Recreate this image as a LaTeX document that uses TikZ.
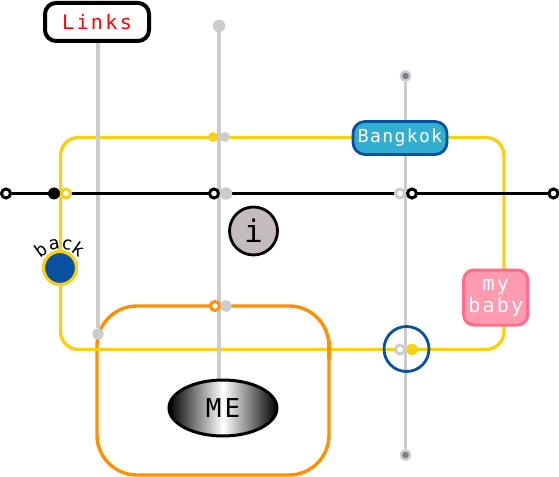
\documentclass[tikz,border=0pt]{standalone}
\usepackage{fontspec}
\setmainfont{DejaVu Sans Mono}
\usetikzlibrary{shapes.geometric}
\definecolor{ylw}{HTML}{F8D015}
\definecolor{grr}{HTML}{CCCCCC}
\definecolor{blu}{HTML}{0A50A0}
\definecolor{org}{HTML}{FF9000}
\definecolor{sky}{HTML}{31AED0}
\definecolor{pnkf}{HTML}{FF9BB0}
\definecolor{pnkd}{HTML}{FF6E88}
\definecolor{pur}{HTML}{85798C}
\definecolor{igr}{HTML}{C4BCBC}
\newfontfamily\spA[LetterSpace=12]{DejaVu Sans Mono}
\newfontfamily\spB[LetterSpace=8]{DejaVu Sans Mono}
\newfontfamily\spC[LetterSpace=11]{DejaVu Sans Mono}
\newfontfamily\spD[LetterSpace=12]{DejaVu Sans Mono}
\pgfdeclarelayer{lines}
\pgfsetlayers{lines,main}
\tikzset{
  x=1bp,y=-1bp,
  openstop/.style={circle,draw=#1,fill=white,line width=3bp,minimum size=9bp,inner sep=0pt},
  dotfull/.style n args={2}{circle,fill=#1,minimum size=#2,inner sep=0pt},
  linegrey/.style={draw=grr,line width=3.2bp},
  lineblack/.style={draw=black,line width=3.2bp},
  lineyellow/.style={draw=ylw,line width=3.4bp},
  lineorange/.style={draw=org,line width=3.4bp},
  backletter/.style={inner sep=0pt,font=\fontsize{18bp}{18bp}\selectfont}
}
\begin{document}
\begin{tikzpicture}
\useasboundingbox (0,0) rectangle (559,477);
\coordinate (yTL) at (60.5,137.5);
\coordinate (yBR) at (504,349.5);
\coordinate (oTL) at (97,306);
\coordinate (oBR) at (329,475);
\coordinate (patchA) at (60.5,185);
\coordinate (patchB) at (60.5,202);
\coordinate (patchC) at (329,340);
\coordinate (patchD) at (329,359);
% line ends and stops
\node[openstop=black] (bl) at (6,193.5) {};
\node[openstop=black] (br) at (553.5,193.5) {};
\node[dotfull={grr}{12.5bp}] (gtop) at (219,26) {};
\node[dotfull={grr}{11.5bp}] (rtop) at (405.5,76) {};
\node[dotfull={grr}{11.5bp}] (rbot) at (405.5,455) {};
\node[dotfull={pur}{6.5bp}] (rtopi) at (405.5,76) {};
\node[dotfull={pur}{6.5bp}] (rboti) at (405.5,455) {};
\node[dotfull={grr}{11.5bp}] (lbot) at (98,334) {};
\node[rectangle,draw=black,fill=white,line width=4bp,rounded corners=11bp,minimum width=104bp,minimum height=38bp,
      inner sep=0pt,text=red,font=\fontsize{20bp}{20bp}\selectfont\spA] (links) at (97,22) {Links};
\node[ellipse,draw=black,line width=3bp,minimum width=108bp,minimum height=56bp,inner sep=0pt,
      left color=black,right color=black,middle color=white,
      font=\fontsize{26bp}{26bp}\selectfont\spD] (me) at (223,408) {ME};
\begin{pgfonlayer}{lines}
\draw[lineorange,rounded corners=40bp] (oTL) rectangle (oBR);
\draw[lineyellow,rounded corners=18bp] (yTL) rectangle (yBR);
\draw[lineorange] (patchC) -- (patchD);
\draw[linegrey] (lbot |- links.south) -- (lbot);
\draw[lineblack] (bl) -- (br);
\draw[lineyellow] (patchA) -- (patchB);
\draw[linegrey] (gtop) -- (gtop |- me.north);
\draw[linegrey] (rtop) -- (rbot);
\end{pgfonlayer}
\node[dotfull={ylw}{10bp}] at (213,137) (s1) {};
\node[dotfull={grr}{10bp}] at (225,137) (s2) {};
\node[dotfull={black}{12bp}] at (54,193.5) (s3) {};
\node[openstop=ylw] at (66,193.5) (s4) {};
\node[openstop=black] at (214,193.5) (s5) {};
\node[dotfull={grr}{12.5bp}] at (226,193.5) (s6) {};
\node[openstop=grr] at (400,193.5) (s7) {};
\node[openstop=black] at (412,193.5) (s8) {};
\node[openstop=org] at (215,306) (s9) {};
\node[dotfull={grr}{11.5bp}] at (226,306) (s10) {};
\node[openstop=grr] at (400,349.5) (s11) {};
\node[dotfull={ylw}{11.5bp}] at (412,349.5) (s12) {};
\node[circle,draw=blu,line width=2.8bp,minimum size=45bp,inner sep=0pt] (ring) at (406.5,349) {};
\node[circle,draw=black,fill=igr,line width=2.8bp,minimum size=48bp,inner sep=0pt,font=\fontsize{31bp}{31bp}\selectfont] (info) at (253.5,231) {i};
\node[circle,draw=ylw,fill=blu,line width=3.2bp,minimum size=33bp,inner sep=0pt] (back) at (60,268) {};
\node[backletter,rotate=35] (b1) at (40.5,250) {b};
\node[backletter,rotate=10] (b2) at (54,244.5) {a};
\node[backletter,rotate=-12] (b3) at (67,244.5) {c};
\node[backletter,rotate=-35] (b4) at (78.5,249) {k};
\node[rectangle,draw=blu,fill=sky,line width=2.8bp,rounded corners=12bp,minimum width=94bp,minimum height=33bp,inner sep=0pt,
      text=white,font=\fontsize{18bp}{18bp}\selectfont\spB] (bkk) at (400,138) {Bangkok};
\node[rectangle,draw=pnkd,fill=pnkf,line width=3bp,rounded corners=10bp,minimum width=64bp,minimum height=55bp,inner sep=0pt,
      text=white,align=center,font=\fontsize{20bp}{22bp}\selectfont\spC] (baby) at (495.7,297.5) {my\\baby};
\end{tikzpicture}
\end{document}
